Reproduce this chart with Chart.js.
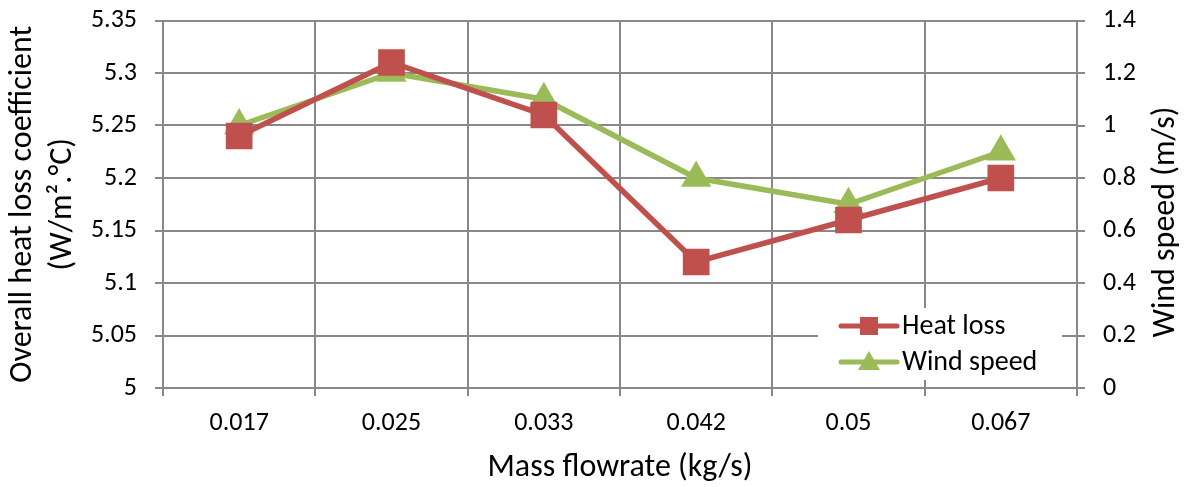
<!DOCTYPE html>
<html>
<head>
<meta charset="utf-8">
<script src="https://cdn.jsdelivr.net/npm/chart.js@4"></script>
<style>
  html, body { margin: 0; padding: 0; background: #fff; }
  #wrap { width: 1188px; height: 487px; }
</style>
</head>
<body>
<div id="wrap"><canvas id="myChart" width="1188" height="487"></canvas></div>
<script>
var flowrates = ['0.017', '0.025', '0.033', '0.042', '0.05', '0.067'];
var heatLoss = [5.24, 5.31, 5.26, 5.12, 5.16, 5.2];
var windSpeed = [1.0, 1.2, 1.1, 0.8, 0.7, 0.9];

var gridGrey = '#888888';
var fontFamily = 'Carlito, "Open Sans", sans-serif';

// legend drawn inside the plot, plus the right axis title reading upward
var extras = {
    id: 'extras',
    afterDraw: function(chart) {
        var c = chart.ctx;
        var x0 = 818, y0 = 308;
        c.save();
        c.fillStyle = '#fff';
        c.fillRect(x0, y0, 244, 72);
        chart.data.datasets.forEach(function(ds, i) {
            var y = y0 + 18 + i * 36;
            c.strokeStyle = ds.borderColor;
            c.lineWidth = 5;
            c.lineCap = 'round';
            c.beginPath();
            c.moveTo(x0 + 23, y);
            c.lineTo(x0 + 79, y);
            c.stroke();
            c.fillStyle = ds.backgroundColor;
            c.beginPath();
            if (ds.pointStyle === 'rect') {
                c.rect(x0 + 42, y - 9, 18, 18);
            } else {
                c.moveTo(x0 + 51, y - 11);
                c.lineTo(x0 + 62, y + 8);
                c.lineTo(x0 + 40, y + 8);
                c.closePath();
            }
            c.fill();
            c.fillStyle = '#000';
            c.font = '28px ' + fontFamily;
            c.textBaseline = 'middle';
            c.textAlign = 'left';
            c.fillText(ds.label, x0 + 84, y + 1);
        });
        c.translate(1166, 222);
        c.rotate(-Math.PI / 2);
        c.textAlign = 'center';
        c.textBaseline = 'middle';
        c.font = '32px ' + fontFamily;
        c.fillText('Wind speed (m/s)', 0, 0);
        c.restore();
    }
};

function tightY(scale, w) {
    scale.width = w;
    scale.paddingTop = 12;
    scale.paddingBottom = 12;
}

var ctx = document.getElementById('myChart').getContext('2d');
var myChart = new Chart(ctx, {
    type: 'line',
    data: {
        labels: flowrates,
        datasets: [{
            label: 'Heat loss',
            data: heatLoss,
            yAxisID: 'y',
            borderColor: '#C0504D',
            backgroundColor: '#C0504D',
            borderWidth: 5.5,
            pointStyle: 'rect',
            pointRadius: 15,
            pointHoverRadius: 15,
            tension: 0
        }, {
            label: 'Wind speed',
            data: windSpeed,
            yAxisID: 'y1',
            borderColor: '#9BBB59',
            backgroundColor: '#9BBB59',
            borderWidth: 5.5,
            pointStyle: 'triangle',
            pointRadius: 12,
            pointHoverRadius: 12,
            tension: 0
        }]
    },
    options: {
        responsive: false,
        animation: false,
        layout: { padding: { top: 19, left: 0, right: 0, bottom: 0 } },
        plugins: {
            legend: { display: false },
            tooltip: { enabled: false }
        },
        scales: {
            x: {
                offset: true,
                grid: { offset: true, color: gridGrey, lineWidth: 2, tickLength: 8 },
                border: { color: gridGrey, width: 2 },
                ticks: { color: '#000', padding: 12, font: { family: fontFamily, size: 26 } },
                title: {
                    display: true,
                    text: 'Mass flowrate (kg/s)',
                    color: '#000',
                    font: { family: fontFamily, size: 32 },
                    padding: { top: 0, bottom: 0 }
                },
                afterFit: function(scale) { scale.height = 99; }
            },
            y: {
                position: 'left',
                min: 5,
                max: 5.35,
                grid: { color: gridGrey, lineWidth: 2, tickLength: 8 },
                border: { color: gridGrey, width: 2 },
                ticks: {
                    stepSize: 0.05,
                    color: '#000',
                    padding: 18,
                    font: { family: fontFamily, size: 26 },
                    callback: function(v) { return +v.toFixed(2); }
                },
                title: {
                    display: true,
                    text: ['Overall heat loss coefficient', '(W/m\u00B2.\u00B0C)'],
                    color: '#000',
                    font: { family: fontFamily, size: 32, lineHeight: 1.25 },
                    padding: { top: 3, bottom: 0 }
                },
                afterFit: function(scale) { tightY(scale, 163); }
            },
            y1: {
                position: 'right',
                min: 0,
                max: 1.4,
                grid: { drawOnChartArea: false, color: gridGrey, lineWidth: 2, tickLength: 8 },
                border: { color: gridGrey, width: 2 },
                ticks: {
                    stepSize: 0.2,
                    color: '#000',
                    padding: 18,
                    font: { family: fontFamily, size: 26 },
                    callback: function(v) { return +v.toFixed(1); }
                },
                afterFit: function(scale) { tightY(scale, 111); }
            }
        }
    },
    plugins: [extras]
});
</script>
</body>
</html>
